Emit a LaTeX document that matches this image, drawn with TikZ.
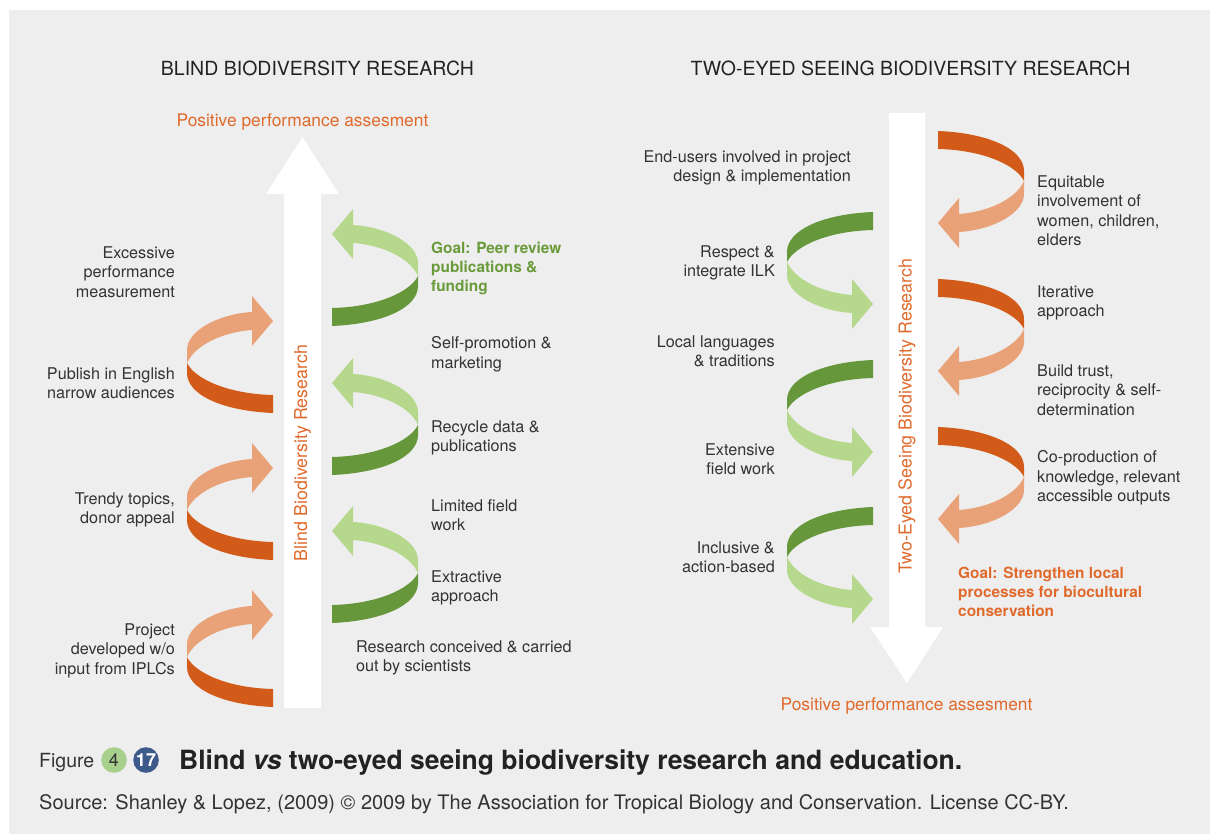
\documentclass[tikz,border=0pt]{standalone}
\usepackage{fontspec}
\setmainfont{TeX Gyre Heros}
\definecolor{bggray}{HTML}{EEEEEE}
\definecolor{ordark}{HTML}{D35B1A}
\definecolor{orlight}{HTML}{E9A178}
\definecolor{grdark}{HTML}{66973A}
\definecolor{grlight}{HTML}{B5D88C}
\definecolor{ortext}{HTML}{E06A2C}
\definecolor{grtext}{HTML}{6A9B3B}
\definecolor{lblgray}{HTML}{333333}
\definecolor{titlegray}{HTML}{222222}
\definecolor{circgreen}{HTML}{A8D08D}
\definecolor{circblue}{HTML}{3D5A8A}
\newcommand{\ribbonarrow}[5]{%
  \begin{scope}[shift={(#1,#2)}, xscale=#3, yscale=#4]
    \fill[#5light] (-21,-9) -- (-21,-25) -- (0,0) -- (-21,25) -- (-21,9)
      .. controls (-50,11) and (-78,24) .. (-86,42) -- (-86,29)
      .. controls (-86,10) and (-55,-7) .. (-21,-9) -- cycle;
    \fill[#5dark] (-86,42) -- (-86,52)
      .. controls (-86,74) and (-50,90) .. (0,92) -- (0,74)
      .. controls (-45,73) and (-78,58) .. (-86,42) -- cycle;
  \end{scope}}
\tikzset{
  lbl/.style={inner sep=0pt, text=lblgray, font=\fontsize{16.2}{19.4}\selectfont},
  lblr/.style={lbl, align=right, anchor=north east},
  lbll/.style={lbl, align=left, anchor=north west},
  goal/.style={inner sep=0pt, align=left, anchor=north west, font=\bfseries\fontsize{15.4}{19.4}\selectfont},
  titletext/.style={inner sep=0pt, anchor=base, text=titlegray, font=\fontsize{19.5}{23}\selectfont},
  perf/.style={inner sep=0pt, anchor=base, text=ortext, font=\fontsize{17.4}{21}\selectfont},
  vert/.style={inner sep=0pt, rotate=90, text=ortext, font=\fontsize{17.8}{21}\selectfont},
  badge/.style={circle, minimum size=25.6pt, inner sep=0pt, font=\fontsize{18}{20}\selectfont}
}
\begin{document}
\begin{tikzpicture}[x=1pt,y=-1pt]
\useasboundingbox (0,0) rectangle (1210,834);
\fill[bggray] (9,10) rectangle (1210,834);

% big arrows
\fill[white] (284,708) -- (284,194) -- (266,194) -- (302.5,137) -- (339,194) -- (321,194) -- (321,708) -- cycle;
\fill[white] (889,113) -- (889,627) -- (870,627) -- (907,683) -- (943,627) -- (925,627) -- (925,113) -- cycle;

% ribbon arrows left diagram
\ribbonarrow{273}{321}{1}{1}{or}
\ribbonarrow{273}{468}{1}{1}{or}
\ribbonarrow{273}{615}{1}{1}{or}
\ribbonarrow{332}{234}{-1}{1}{gr}
\ribbonarrow{332}{383}{-1}{1}{gr}
\ribbonarrow{332}{531}{-1}{1}{gr}
% ribbon arrows right diagram
\ribbonarrow{873}{304}{1}{-1}{gr}
\ribbonarrow{873}{452}{1}{-1}{gr}
\ribbonarrow{873}{599}{1}{-1}{gr}
\ribbonarrow{938}{223}{-1}{-1}{or}
\ribbonarrow{938}{371}{-1}{-1}{or}
\ribbonarrow{938}{519}{-1}{-1}{or}

% titles
\node[titletext] (t1) at (317.5,76) {BLIND BIODIVERSITY RESEARCH};
\node[titletext] (t2) at (910.5,76) {TWO-EYED SEEING BIODIVERSITY RESEARCH};
\node[perf] (p1) at (302.5,127) {Positive performance assesment};
\node[perf] (p2) at (906.5,710) {Positive performance assesment};
\node[vert] (v1) at (302.5,453) {Blind Biodiversity Research};
\node[vert] (v2) at (907,416) {Two-Eyed Seeing Biodiversity Research};

% left diagram labels
\node[lblr] (l1) at (175,246.5) {Excessive\\performance\\measurement};
\node[lblr] (l2) at (175,367.5) {Publish in English\\narrow audiences};
\node[lblr] (l3) at (175,492.5) {Trendy topics,\\donor appeal};
\node[lblr] (l4) at (175,623.5) {Project\\developed w/o\\input from IPLCs};
\node[goal, text=grtext] (r1) at (431,241.5) {Goal: Peer review\\publications \&\\funding};
\node[lbll] (r2) at (431,336.5) {Self-promotion \&\\marketing};
\node[lbll] (r3) at (431,420.5) {Recycle data \&\\publications};
\node[lbll] (r4) at (431,499.5) {Limited field\\work};
\node[lbll] (r5) at (431,570.5) {Extractive\\approach};
\node[lbll] (r6) at (356,640.5) {Research conceived \& carried\\out by scientists};

% right diagram labels
\node[lblr] (s1) at (851,150.5) {End-users involved in project\\design \& implementation};
\node[lblr] (s2) at (775,245.5) {Respect \&\\integrate ILK};
\node[lblr] (s3) at (775,335.5) {Local languages\\ \& traditions};
\node[lblr] (s4) at (775,443.5) {Extensive\\field work};
\node[lblr] (s5) at (775,541.5) {Inclusive \&\\action-based};
\node[lbll] (u1) at (1037,175.5) {Equitable\\involvement of\\women, children,\\elders};
\node[lbll] (u2) at (1037,285.5) {Iterative\\approach};
\node[lbll] (u3) at (1037,364.5) {Build trust,\\reciprocity \& self-\\determination};
\node[lbll] (u4) at (1037,450.5) {Co-production of\\knowledge, relevant\\accessible outputs};
\node[goal, text=ortext] (u5) at (958,566.5) {Goal: Strengthen local\\processes for biocultural\\conservation};

% caption
\node[anchor=base west, inner sep=0pt, text=lblgray, font=\fontsize{19.5}{24}\selectfont] (fig) at (39,767) {Figure};
\node[badge, fill=circgreen, text=lblgray] (c4) at (114,760) {4};
\node[badge, fill=circblue, text=white, font=\bfseries\fontsize{18}{20}\selectfont] (c17) at (146,760) {17};
\node[anchor=base west, inner sep=0pt, text=titlegray, font=\bfseries\fontsize{26.5}{30}\selectfont] (cap) at (179,769) {Blind \textit{vs} two-eyed seeing biodiversity research and education.};
\node[anchor=base west, inner sep=0pt, text=lblgray, font=\fontsize{20}{24}\selectfont] (src) at (39,809) {Source: Shanley \& Lopez, (2009) © 2009 by The Association for Tropical Biology and Conservation. License CC-BY.};
\end{tikzpicture}
\end{document}
